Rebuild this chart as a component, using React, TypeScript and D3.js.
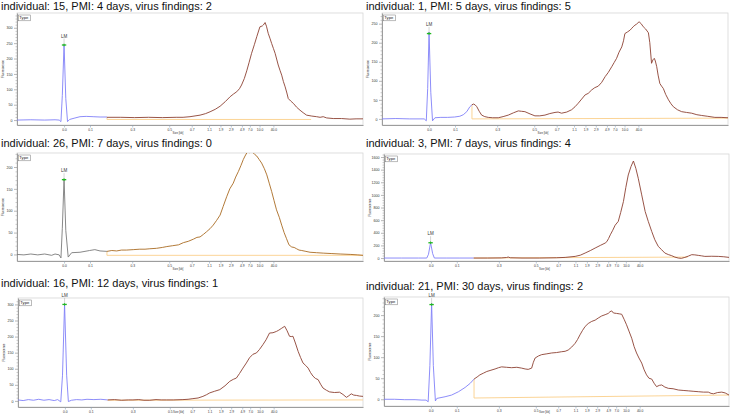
import React, { useEffect, useRef } from 'react';
import * as d3 from 'd3';

// --- Ladder: size labels (kb) and their migration position (% of run) ---
const ladderLabels = ['0.0', '0.1', '0.3', '0.5', '0.7', '1.1', '1.9', '2.9', '4.9', '7.0', '10.0', '40.0'];
const ladderPos = [13.6, 21.1, 33.3, 44.0, 50.5, 55.5, 58.8, 61.8, 65.0, 67.3, 70.1, 74.1];

// --- Per sample info ---
const titles = [
    'individual: 15, PMI: 4 days, virus findings: 2',
    'individual: 1, PMI: 5 days, virus findings: 5',
    'individual: 26, PMI: 7 days, virus findings: 0',
    'individual: 3, PMI: 7 days, virus findings: 4',
    'individual: 16, PMI: 12 days, virus findings: 1',
    'individual: 21, PMI: 30 days, virus findings: 2',
];
const yMin = [-16, -16, -15, -47, -19, -16];
const yMax = [348, 278, 232, 1648, 320, 243];
const yStep = [50, 50, 50, 200, 50, 50];
const lmTime = [13.6, 13.6, 13.6, 13.5, 13.5, 13.8];
const lmHeight = [244, 224, 171, 242, 300, 225];

// lower marker region [time, fluorescence]
const marker15 = [[0, 0], [4, 1], [8, 0], [11, 1], [12.2, 0], [12.7, -5], [13.1, 80], [13.6, 246], [14.1, 70], [14.6, -5], [15.2, 2], [16.5, 6], [18.2, 11], [20, 12], [22, 11], [24, 10], [26, 10]];
const marker1 = [[0, 0], [4, 1], [8, 0], [11, 0], [12.2, 0], [12.8, -5], [13.2, 80], [13.6, 228], [14.1, 70], [14.6, -5], [15.3, 3], [17, 4], [19, 4], [21, 5], [22.5, 7], [23.5, 11], [24.5, 19], [25.4, 32], [26, 37]];
const marker26 = [[0, 0], [2, -1], [4, 1], [6, -1], [8, 1], [10, -2], [11, 1], [12.2, -1], [12.7, -8], [13.1, 60], [13.6, 173], [14.1, 55], [14.8, -6], [15.8, 4], [18.2, 5], [21, 9], [22.5, 11], [24, 8], [26, 7]];
const marker3 = [[0, 0], [5, 0], [10, 0], [12.4, 0], [12.9, 60], [13.5, 245], [14.1, 70], [14.6, 0], [18, 0], [22, 0], [26, 0]];
const marker16 = [[0, 3], [1.5, 1], [3, 4], [4.5, 2], [6, 5], [7.5, 2], [9, 4], [10.5, 1], [11.5, 4], [12.4, -3], [12.9, 80], [13.5, 302], [14.1, 80], [14.6, -2], [15.5, 2], [17, 4], [18.5, 3], [20, 5], [22, 4], [24, 5], [26, 3]];
const marker21 = [[0, 0], [3, 0], [6, -1], [9, -1], [11, -2], [12.2, -2], [12.8, -6], [13.3, 80], [13.8, 228], [14.3, 80], [14.9, -4], [15.3, 2], [17.7, 6], [19.6, 10], [21.6, 18], [23.5, 28], [25, 38], [26.1, 48]];

// sample region [time, fluorescence]
const sample15 = [[26, 9], [30, 9], [34, 8], [38, 9], [42, 8], [46, 9], [48, 9], [50, 11], [52.9, 16], [54.5, 21], [55.8, 27], [57.3, 35], [58.7, 45], [60.2, 60], [61.6, 76], [62.6, 85], [63.5, 92], [64.3, 102], [64.9, 114], [65.7, 135], [66.4, 160], [67.1, 188], [67.8, 217], [68.6, 245], [69.3, 271], [70.2, 303], [70.9, 306], [71.2, 309], [71.7, 317], [72.1, 305], [72.6, 282], [73.1, 266], [73.6, 249], [74.1, 233], [74.6, 217], [75.5, 179], [76.0, 162], [76.5, 146], [77.0, 125], [77.5, 108], [78.0, 88], [78.4, 70], [79.1, 62], [79.9, 54], [80.8, 42], [81.8, 32], [82.7, 24], [83.7, 16], [85.2, 13], [86.6, 11], [87.6, 9], [88.5, 11], [89.5, 7], [91.4, 5], [93.8, 5], [96.2, 3], [98, 4], [100, 4]];
const sample1 = [[26, 37], [26.4, 39], [26.9, 37], [27.4, 32], [28.1, 20], [28.8, 10], [29.7, 6], [30.7, 4], [32, 3], [33.6, 3], [35, 6], [36.5, 10], [38, 16], [39.4, 21], [40.3, 20], [41.3, 19], [42.8, 13], [44.2, 8], [45.6, 8], [47.1, 10], [48.5, 14], [50, 17], [50.9, 18], [51.9, 15], [53.4, 18], [54.8, 24], [55.8, 32], [56.7, 41], [57.7, 52], [58.7, 63], [59.6, 67], [60.6, 76], [61.5, 82], [62.5, 86], [63.5, 96], [64.5, 111], [65.4, 122], [66.4, 137], [67.1, 148], [67.8, 159], [68.5, 175], [69.3, 189], [69.8, 205], [70.2, 224], [70.9, 228], [71.7, 233], [72.2, 238], [72.6, 242], [73.1, 246], [73.6, 249], [74.3, 255], [74.9, 250], [75.5, 242], [76.2, 236], [77, 226], [77.4, 200], [77.9, 146], [78.3, 155], [78.7, 159], [79.0, 152], [79.4, 137], [79.8, 115], [80.3, 93], [80.8, 86], [81.3, 80], [82.0, 64], [82.8, 50], [83.5, 40], [84.2, 32], [85.4, 24], [86.6, 19], [88, 17], [89.5, 15], [91, 11], [92.4, 9], [94, 7], [96.2, 4], [98, 4], [100, 3]];
const sample26 = [[26, 7], [27.4, 9], [28.8, 8], [30.2, 10], [31.6, 10], [33.6, 11], [35.5, 12], [37, 12], [38.4, 13], [40.3, 14], [42, 16], [43.3, 18], [45, 20], [46.7, 22], [48.1, 27], [49.5, 30], [51, 35], [52, 39], [52.9, 40], [53.9, 46], [54.8, 52], [55.8, 59], [56.7, 67], [57.7, 78], [58.7, 90], [59.6, 110], [60.6, 132], [61.5, 150], [62.5, 163], [63.2, 177], [64, 190], [64.7, 203], [65.4, 217], [65.9, 225], [66.4, 232], [66.9, 235], [67.3, 232], [67.8, 236], [68.3, 232], [68.8, 228], [69.3, 225], [70, 217], [70.7, 209], [71.5, 196], [72.2, 182], [72.9, 163], [73.6, 144], [74.3, 123], [75, 102], [75.8, 85], [76.5, 67], [77.2, 50], [77.9, 36], [78.6, 22], [79.4, 17], [80.1, 16], [80.8, 13], [81.5, 10], [82.3, 9], [83.5, 7], [84.7, 5], [86.6, 4], [88.5, 3], [91, 2], [93.4, 1], [96.5, 0], [98.5, -1], [100, -2]];
const sample3 = [[26, 0], [30, 0], [34, 2], [35.5, 8], [36, 16], [36.6, 4], [40, 0], [45, 0], [50, 4], [52.5, 10], [55.4, 26], [56.9, 45], [58.3, 79], [59.8, 118], [61.2, 158], [62.7, 200], [64.1, 237], [64.6, 260], [65.1, 310], [65.6, 368], [66.3, 440], [67, 520], [67.9, 580], [68.6, 720], [69.4, 895], [70.1, 1120], [70.8, 1316], [71.6, 1450], [72.3, 1537], [73, 1420], [73.7, 1263], [74.7, 1000], [75.7, 737], [76.6, 580], [77.6, 421], [78.5, 290], [79.5, 184], [80.5, 130], [81.4, 79], [82.4, 55], [83.4, 37], [84.3, 15], [85.3, 0], [86.2, -5], [87.2, 10], [88.2, 30], [89.2, 53], [90.1, 50], [91.1, 42], [92, 35], [93, 26], [95, 28], [96.9, 26], [98.5, 20], [100, 10]];
const sample16 = [[26, 3], [28, 4], [30, 2], [32, 3], [33.3, 3], [35, 4], [36.5, 2], [38.2, 2], [40, 4], [41.5, 3], [43, 3], [45, 3], [47.8, 4], [49.3, 5], [50.7, 7], [52.2, 9], [53.6, 14], [54.6, 19], [55.6, 25], [57, 30], [58.5, 35], [60, 47], [61.4, 61], [62.4, 67], [63.3, 71], [64.2, 85], [65.2, 102], [66.2, 118], [67.1, 134], [68.1, 145], [69.1, 149], [70, 160], [71, 175], [71.9, 190], [72.9, 211], [73.9, 212], [74.9, 216], [75.6, 220], [76.3, 225], [77.3, 232], [78, 218], [78.7, 201], [79.2, 200], [79.7, 201], [80.4, 180], [81.2, 154], [81.9, 135], [82.6, 118], [83.4, 110], [84.1, 102], [84.8, 88], [85.5, 77], [86.2, 70], [87, 66], [87.7, 52], [88.4, 40], [89.4, 33], [90.3, 28], [91.7, 26], [93.2, 27], [94.2, 20], [95.2, 11], [95.9, 16], [96.6, 22], [97.3, 18], [98.1, 17], [99, 15], [100, 14]];
const sample21 = [[26.1, 48], [27, 53], [27.8, 58], [28.8, 62], [29.8, 66], [31, 69], [32.2, 72], [33.2, 75], [34.1, 77], [35.5, 76], [37, 75], [38.5, 76], [39.9, 74], [40.9, 72], [41.8, 71], [42.8, 74], [43.3, 88], [43.8, 98], [44.8, 103], [45.7, 106], [47.2, 108], [48.6, 110], [50, 111], [51.5, 113], [52.5, 114], [53.4, 117], [54.4, 124], [55.4, 133], [56.1, 142], [56.8, 153], [57.5, 163], [58.3, 173], [59.2, 180], [60.2, 185], [61.2, 188], [62.1, 193], [63.1, 198], [64.1, 201], [65, 204], [65.5, 208], [66, 210], [66.5, 205], [67.4, 204], [68.2, 203], [68.9, 202], [69.6, 190], [70.3, 177], [71.1, 160], [71.8, 145], [72.5, 125], [73.2, 110], [73.9, 98], [74.7, 86], [75.4, 70], [76.1, 58], [76.8, 50], [77.6, 48], [78.3, 38], [79, 30], [79.8, 33], [80.5, 34], [81.4, 29], [82.4, 26], [83.8, 25], [85.3, 22], [86.7, 21], [88.2, 20], [89.6, 19], [91.1, 18], [92.6, 17], [94, 17], [94.8, 14], [95.5, 13], [96.7, 16], [97.9, 17], [98.9, 15], [100, 10]];

// smear baseline: [t start, curve value, baseline at start, t end, baseline at end]
const baseline15 = [26, 9, 2, 85, 2];
const baseline1 = [26, 37, 0, 100, 2];
const baseline26 = [26, 7, -2, 100, -2];
const baseline3 = [26, 0, 0, 88, 15];
const baseline16 = [26, 3, 2, 100, 3];
const baseline21 = [26.1, 48, 3, 100, 10];

const markers = [marker15, marker1, marker26, marker3, marker16, marker21];
const samples = [sample15, sample1, sample26, sample3, sample16, sample21];
const baselines = [baseline15, baseline1, baseline26, baseline3, baseline16, baseline21];

// --- Layout of the six panels ---
const layout = [
    { left: 17, top: 13, right: 363, bottom: 125, titleX: 1, titleY: 10 },
    { left: 382, top: 13, right: 728, bottom: 125, titleX: 366, titleY: 10 },
    { left: 17, top: 153, right: 363, bottom: 261, titleX: 1, titleY: 147 },
    { left: 384, top: 154, right: 729, bottom: 261, titleX: 366, titleY: 147 },
    { left: 18, top: 298, right: 363, bottom: 407, titleX: 1, titleY: 287 },
    { left: 384, top: 297, right: 729, bottom: 406, titleX: 366, titleY: 290 },
];
const markerColors = ['#8080f8', '#8080f8', '#7a7a7a', '#8080f8', '#8080f8', '#8080f8'];
const sampleColors = ['#8c4132', '#8c4132', '#a96b22', '#8c4132', '#8c4132', '#8c4132'];
const FONT = '"Liberation Sans", Arial, sans-serif';

const App = () => {
    const svgRef = useRef<SVGSVGElement>(null);

    useEffect(() => {
        const svg = d3.select(svgRef.current);
        svg.selectAll('*').remove();
        const defs = svg.append('defs');

        layout.forEach((box, i) => {
            const x = d3.scaleLinear().domain([0, 100]).range([box.left, box.right]);
            const y = d3.scaleLinear().domain([yMin[i], yMax[i]]).range([box.bottom, box.top]);
            const g = svg.append('g');

            g.append('text')
                .attr('x', box.titleX).attr('y', box.titleY)
                .attr('font-family', FONT).attr('font-size', 11).attr('fill', '#111')
                .text(titles[i]);

            g.append('rect')
                .attr('x', box.left).attr('y', box.top)
                .attr('width', box.right - box.left).attr('height', box.bottom - box.top)
                .attr('fill', '#fff').attr('stroke', '#d6d6d6').attr('stroke-width', 0.8);

            // minor y ticks
            const minor = d3.range(0, yMax[i], yStep[i] / 5).filter(v => v % yStep[i] !== 0);
            g.append('g')
                .attr('transform', `translate(${box.left},0)`)
                .call(d3.axisLeft(y).tickValues(minor).tickSize(1.5).tickFormat(() => ''))
                .call(a => a.select('.domain').remove())
                .selectAll('line').attr('stroke', '#999').attr('stroke-width', 0.5);

            // major y ticks
            const yAxis = g.append('g')
                .attr('transform', `translate(${box.left},0)`)
                .call(d3.axisLeft(y).tickValues(d3.range(0, yMax[i] + 1, yStep[i]))
                    .tickFormat(d3.format('d')).tickSize(3).tickSizeOuter(0).tickPadding(1.5));
            yAxis.select('.domain').attr('stroke', '#888').attr('stroke-width', 0.8);
            yAxis.selectAll('line').attr('stroke', '#888').attr('stroke-width', 0.6);
            yAxis.selectAll('text').attr('font-size', 3.6).attr('font-family', FONT).attr('fill', '#333');

            g.append('text')
                .attr('transform', `translate(${box.left - 13},${(box.top + box.bottom) / 2}) rotate(-90)`)
                .attr('text-anchor', 'middle').attr('font-size', 3).attr('font-family', FONT).attr('fill', '#333')
                .text('Fluorescence');

            // x axis with ladder labels
            const xAxis = g.append('g')
                .attr('transform', `translate(0,${box.bottom})`)
                .call(d3.axisBottom(x).tickValues(ladderPos).tickSize(2.5).tickSizeOuter(0).tickPadding(1.2)
                    .tickFormat((_d, j) => ladderLabels[j]));
            xAxis.select('.domain').attr('stroke', '#888').attr('stroke-width', 0.8);
            xAxis.selectAll('line').attr('stroke', '#8fa3b8').attr('stroke-width', 0.6);
            xAxis.selectAll('text').attr('font-size', 3.3).attr('font-family', FONT).attr('fill', '#333');

            g.append('text')
                .attr('x', x(46.5)).attr('y', Math.min(box.bottom + 8.5, 412.5))
                .attr('text-anchor', 'middle').attr('font-size', 2.8).attr('font-family', FONT).attr('fill', '#333')
                .text('Size [kb]');

            // clipped traces
            defs.append('clipPath').attr('id', `clip${i}`)
                .append('rect')
                .attr('x', box.left).attr('y', box.top)
                .attr('width', box.right - box.left).attr('height', box.bottom - box.top);
            const plot = g.append('g').attr('clip-path', `url(#clip${i})`);
            const line = d3.line<number[]>().x(d => x(d[0])).y(d => y(d[1]));

            const b = baselines[i];
            plot.append('path')
                .attr('d', line([[b[0], b[1]], [b[0], b[2]], [b[3], b[4]]]))
                .attr('fill', 'none').attr('stroke', '#fbcf8a').attr('stroke-width', 0.9);

            plot.append('path')
                .attr('d', line(markers[i]))
                .attr('fill', 'none').attr('stroke', markerColors[i]).attr('stroke-width', 0.9);

            plot.append('path')
                .attr('d', line(samples[i]))
                .attr('fill', 'none').attr('stroke', sampleColors[i]).attr('stroke-width', 0.9);

            // legend box
            g.append('rect')
                .attr('x', box.left + 1.3).attr('y', box.top + 2)
                .attr('width', 12.4).attr('height', 5.8)
                .attr('fill', '#fff').attr('stroke', '#777').attr('stroke-width', 0.5);
            g.append('text')
                .attr('x', box.left + 2.3).attr('y', box.top + 6.4)
                .attr('font-size', 4.2).attr('font-family', FONT).attr('fill', '#222')
                .text('Type');

            // lower marker annotation
            const mx = x(lmTime[i]);
            const my = y(lmHeight[i]);
            g.append('line')
                .attr('x1', mx).attr('x2', mx).attr('y1', my - 6.5).attr('y2', my)
                .attr('stroke', '#aaa').attr('stroke-width', 0.5);
            g.append('text')
                .attr('x', mx).attr('y', my - 7.5)
                .attr('text-anchor', 'middle').attr('font-size', 4.5).attr('font-family', FONT).attr('fill', '#333')
                .text('LM');
            g.append('line')
                .attr('x1', mx - 2.2).attr('x2', mx + 2.2).attr('y1', my).attr('y2', my)
                .attr('stroke', '#1fb81f').attr('stroke-width', 1.3);
            g.append('line')
                .attr('x1', mx).attr('x2', mx).attr('y1', my - 1.3).attr('y2', my + 1.3)
                .attr('stroke', '#1fb81f').attr('stroke-width', 0.8);
        });
    }, []);

    return (
        <svg ref={svgRef} width={731} height={415}
            style={{ position: 'absolute', left: 0, top: 0, background: '#fff' }} />
    );
};

export default App;
